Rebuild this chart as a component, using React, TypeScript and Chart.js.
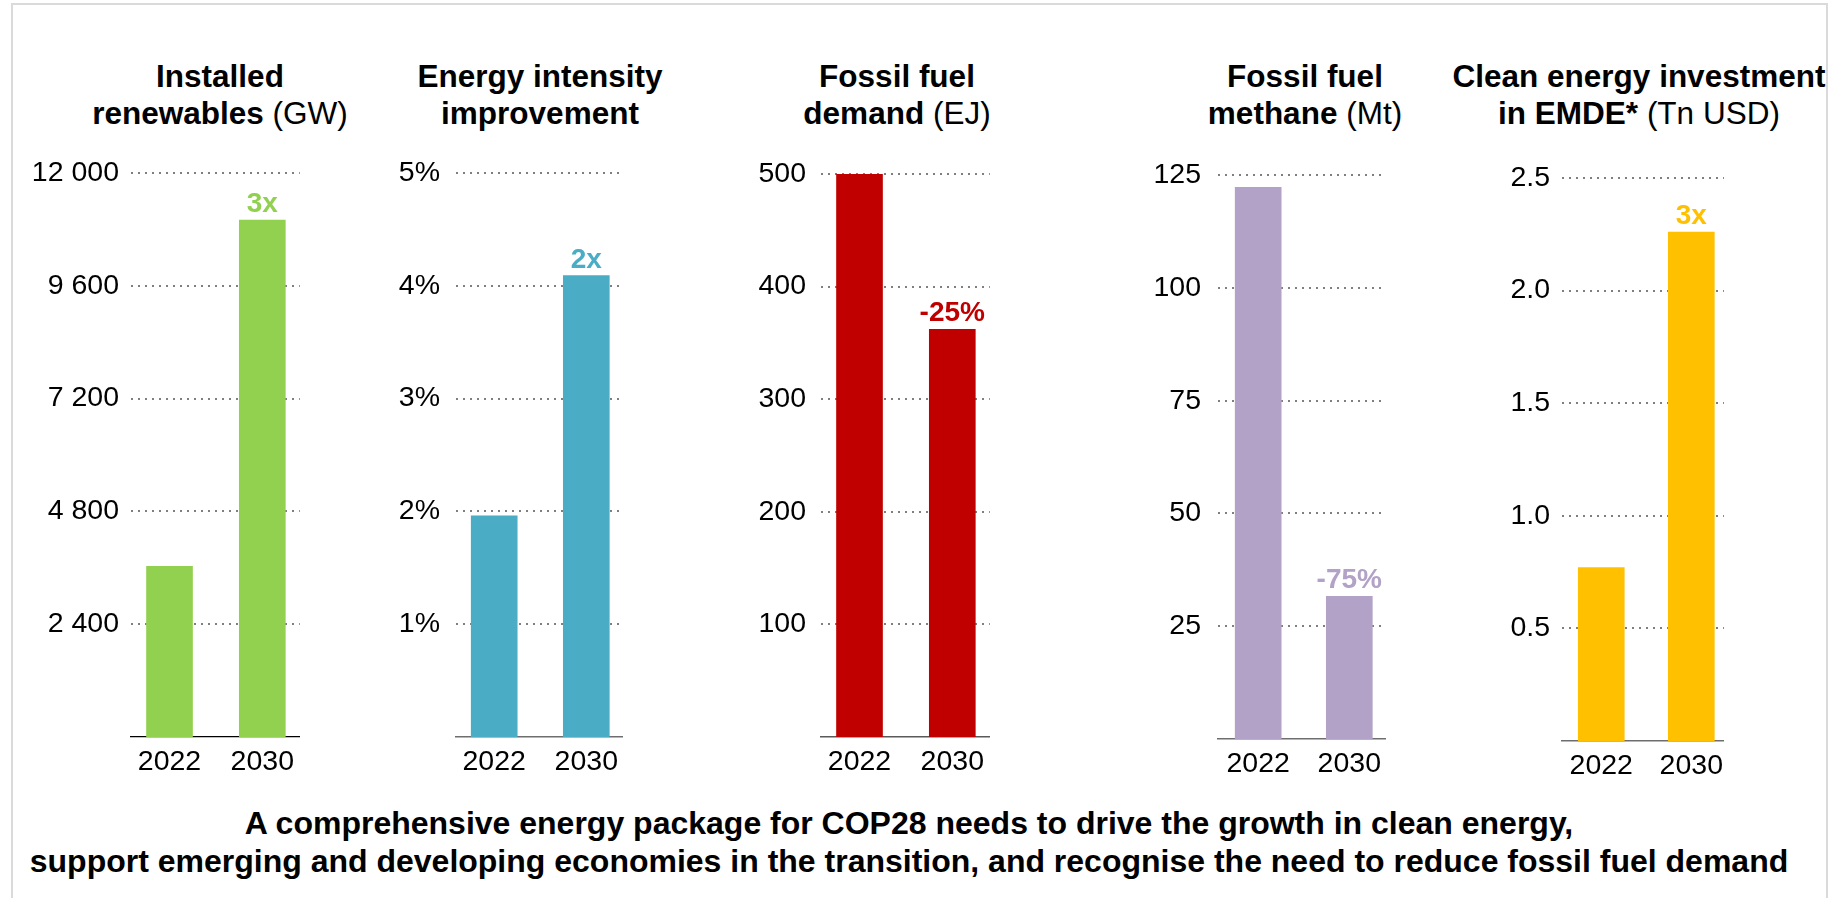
import React, { useEffect, useRef } from 'react';
import { Chart, registerables } from 'chart.js';

Chart.register(...registerables);

// ---- data ----
const YEARS = ['2022', '2030'];

const RENEWABLES_GW = [3630, 11000];
const INTENSITY_PCT = [1.96, 4.09];
const FOSSIL_DEMAND_EJ = [500, 362];
const METHANE_MT = [122.3, 31.6];
const INVESTMENT_TN_USD = [0.77, 2.26];

const RENEWABLES_CHANGE = ['', '3x'];
const INTENSITY_CHANGE = ['', '2x'];
const DEMAND_CHANGE = ['', '-25%'];
const METHANE_CHANGE = ['', '-75%'];
const INVESTMENT_CHANGE = ['', '3x'];

const RENEWABLES_TICKS = [2400, 4800, 7200, 9600, 12000];
const INTENSITY_TICKS = [1, 2, 3, 4, 5];
const DEMAND_TICKS = [100, 200, 300, 400, 500];
const METHANE_TICKS = [25, 50, 75, 100, 125];
const INVESTMENT_TICKS = [0.5, 1, 1.5, 2, 2.5];

const CAPTION = [
  'A comprehensive energy package for COP28 needs to drive the growth in clean energy,',
  'support emerging and developing economies in the transition, and recognise the need to reduce fossil fuel demand',
];

// ---- styling ----
const FONT = '"Liberation Sans", Arial, Helvetica, sans-serif';
const TICK_SIZE = 28.5;
const LABEL_SIZE = 28;
const GRID_COLOR = '#7f7f7f';
const Y_AXIS_W = 120;
const X_AXIS_H = 60;
const PAD_TOP = 34;

type Seg = { t: string; b: boolean };

type Panel = {
  values: number[];
  changes: string[];
  ticks: number[];
  format: (v: number) => string;
  color: string;
  axisColor: string;
  axisWidth: number;
  area: { left: number; right: number; top: number; bottom: number };
  tickPad: number;
  xMin: number;
  xMax: number;
  titleX: number;
  title: Seg[][];
};

const spaced = (v: number) => String(v).replace(/\B(?=(\d{3})+(?!\d))/g, ' ');

const PANELS: Panel[] = [
  {
    values: RENEWABLES_GW,
    changes: RENEWABLES_CHANGE,
    ticks: RENEWABLES_TICKS,
    format: spaced,
    color: '#92d050',
    axisColor: '#000000',
    axisWidth: 1.2,
    area: { left: 131, right: 302, top: 173, bottom: 737 },
    tickPad: 12,
    xMin: -0.415,
    xMax: 1.404,
    titleX: 220,
    title: [[{ t: 'Installed', b: true }], [{ t: 'renewables', b: true }, { t: ' (GW)', b: false }]],
  },
  {
    values: INTENSITY_PCT,
    changes: INTENSITY_CHANGE,
    ticks: INTENSITY_TICKS,
    format: (v) => `${v}%`,
    color: '#4bacc6',
    axisColor: '#6e6e6e',
    axisWidth: 1.5,
    area: { left: 456, right: 626, top: 173, bottom: 737 },
    tickPad: 16,
    xMin: -0.415,
    xMax: 1.394,
    titleX: 540,
    title: [[{ t: 'Energy intensity', b: true }], [{ t: 'improvement', b: true }]],
  },
  {
    values: FOSSIL_DEMAND_EJ,
    changes: DEMAND_CHANGE,
    ticks: DEMAND_TICKS,
    format: (v) => String(v),
    color: '#c00000',
    axisColor: '#5a5a5a',
    axisWidth: 1.5,
    area: { left: 821, right: 992, top: 174, bottom: 737 },
    tickPad: 15,
    xMin: -0.415,
    xMax: 1.404,
    titleX: 897,
    title: [[{ t: 'Fossil fuel', b: true }], [{ t: 'demand', b: true }, { t: ' (EJ)', b: false }]],
  },
  {
    values: METHANE_MT,
    changes: METHANE_CHANGE,
    ticks: METHANE_TICKS,
    format: (v) => String(v),
    color: '#b2a2c7',
    axisColor: '#6e6e6e',
    axisWidth: 1.5,
    area: { left: 1218, right: 1389, top: 175, bottom: 739 },
    tickPad: 17,
    xMin: -0.441,
    xMax: 1.398,
    titleX: 1305,
    title: [[{ t: 'Fossil fuel', b: true }], [{ t: 'methane', b: true }, { t: ' (Mt)', b: false }]],
  },
  {
    values: INVESTMENT_TN_USD,
    changes: INVESTMENT_CHANGE,
    ticks: INVESTMENT_TICKS,
    format: (v) => v.toFixed(1),
    color: '#ffc000',
    axisColor: '#6e6e6e',
    axisWidth: 1.5,
    area: { left: 1562, right: 1731, top: 178, bottom: 741 },
    tickPad: 12,
    xMin: -0.436,
    xMax: 1.362,
    titleX: 1639,
    title: [[{ t: 'Clean energy investment', b: true }], [{ t: 'in EMDE*', b: true }, { t: ' (Tn USD)', b: false }]],
  },
];

function BarPanel({ p }: { p: Panel }) {
  const ref = useRef<HTMLCanvasElement>(null);
  const w = Y_AXIS_W + (p.area.right - p.area.left);
  const h = PAD_TOP + (p.area.bottom - p.area.top) + X_AXIS_H;

  useEffect(() => {
    // change markers written just above each bar
    const changeLabels = {
      id: 'changeLabels',
      afterDatasetsDraw(chart: Chart) {
        const ctx = chart.ctx;
        const meta = chart.getDatasetMeta(0);
        ctx.save();
        ctx.font = `bold ${LABEL_SIZE}px ${FONT}`;
        ctx.fillStyle = p.color;
        ctx.textAlign = 'center';
        ctx.textBaseline = 'alphabetic';
        meta.data.forEach((bar: any, i: number) => {
          const text = p.changes[i];
          if (text) ctx.fillText(text, bar.x, bar.y - 8);
        });
        ctx.restore();
      },
    };

    const chart = new Chart(ref.current as HTMLCanvasElement, {
      type: 'bar',
      data: {
        datasets: [
          {
            data: p.values.map((v, i) => ({ x: i, y: v })),
            backgroundColor: p.color,
            borderWidth: 0,
            barThickness: 46,
          },
        ],
      },
      options: {
        animation: false,
        responsive: false,
        maintainAspectRatio: false,
        layout: { padding: { top: PAD_TOP, left: 0, right: 0, bottom: 0 } },
        plugins: { legend: { display: false }, tooltip: { enabled: false }, title: { display: false } },
        scales: {
          x: {
            type: 'linear',
            offset: false,
            bounds: 'data',
            min: p.xMin,
            max: p.xMax,
            grid: { display: false, drawTicks: false, offset: false },
            border: { display: true, color: p.axisColor, width: p.axisWidth },
            afterBuildTicks: (s: any) => {
              s.ticks = YEARS.map((_, i) => ({ value: i }));
            },
            afterFit: (s: any) => {
              s.height = X_AXIS_H;
            },
            ticks: {
              autoSkip: false,
              maxRotation: 0,
              padding: 8,
              color: '#000',
              font: { family: FONT, size: TICK_SIZE },
              callback: (_v: any, i: number) => YEARS[i],
            },
          },
          y: {
            min: 0,
            max: p.ticks[p.ticks.length - 1],
            grid: { color: GRID_COLOR, lineWidth: 2, drawTicks: false },
            border: { display: false, dash: [2, 5] },
            afterBuildTicks: (s: any) => {
              s.ticks = p.ticks.map((v) => ({ value: v }));
            },
            afterFit: (s: any) => {
              s.width = Y_AXIS_W;
            },
            ticks: {
              padding: p.tickPad,
              color: '#000',
              font: { family: FONT, size: TICK_SIZE },
              callback: (v: any) => p.format(Number(v)),
            },
          },
        },
      } as any,
      plugins: [changeLabels],
    });
    return () => chart.destroy();
  }, []);

  return (
    <canvas
      ref={ref}
      width={w}
      height={h}
      style={{
        position: 'absolute',
        left: p.area.left - Y_AXIS_W,
        top: p.area.top - PAD_TOP,
        width: w,
        height: h,
      }}
    />
  );
}

function PanelTitle({ p }: { p: Panel }) {
  return (
    <div
      style={{
        position: 'absolute',
        left: p.titleX - 250,
        top: 58,
        width: 500,
        textAlign: 'center',
        fontFamily: FONT,
        fontSize: 31.5,
        lineHeight: '36.7px',
        color: '#000',
        whiteSpace: 'nowrap',
      }}
    >
      {p.title.map((line, li) => (
        <div key={li}>
          {line.map((s, si) => (
            <span key={si} style={{ fontWeight: s.b ? 'bold' : 'normal' }}>
              {s.t}
            </span>
          ))}
        </div>
      ))}
    </div>
  );
}

export default function App() {
  return (
    <div
      style={{
        position: 'fixed',
        left: 0,
        top: 0,
        width: 1839,
        height: 898,
        overflow: 'hidden',
        background: '#fff',
      }}
    >
      <div
        style={{
          position: 'absolute',
          left: 11,
          top: 3,
          width: 1813,
          height: 1000,
          border: '2px solid #dadada',
        }}
      />
      {PANELS.map((p, i) => (
        <PanelTitle key={`t${i}`} p={p} />
      ))}
      {PANELS.map((p, i) => (
        <BarPanel key={`c${i}`} p={p} />
      ))}
      <div
        style={{
          position: 'absolute',
          left: 0,
          top: 804,
          width: 1818,
          textAlign: 'center',
          fontFamily: FONT,
          fontWeight: 'bold',
          fontSize: 32,
          lineHeight: '38px',
          color: '#000',
          whiteSpace: 'nowrap',
        }}
      >
        {CAPTION.map((line, i) => (
          <div key={i}>{line}</div>
        ))}
      </div>
    </div>
  );
}
